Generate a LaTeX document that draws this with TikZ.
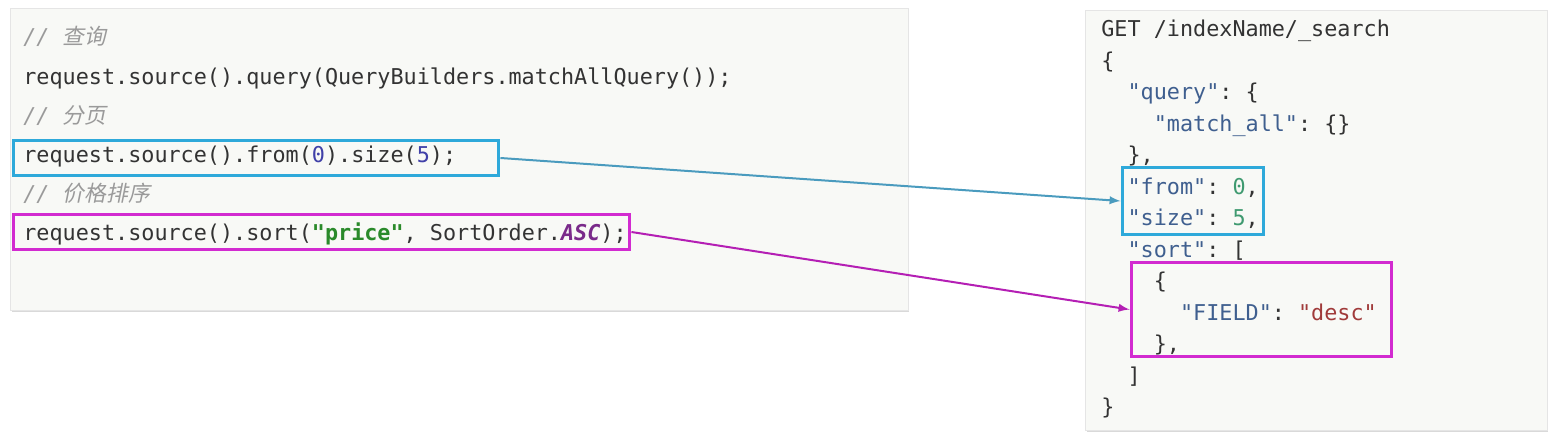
\documentclass[tikz,border=0pt]{standalone}
\usepackage{fontspec}
\setmonofont{DejaVu Sans Mono}
\newfontfamily\cjk{Noto Sans CJK SC}[FakeSlant=0.2]
\usetikzlibrary{arrows}
\usetikzlibrary{positioning}
\usetikzlibrary{shadows}

\definecolor{panelbg}{HTML}{F8F9F6}
\definecolor{codetext}{HTML}{333333}
\definecolor{commenttext}{HTML}{9A9A9A}
\definecolor{numtext}{HTML}{4040A8}
\definecolor{strtext}{HTML}{2A8A2A}
\definecolor{consttext}{HTML}{7A2A8A}
\definecolor{keytext}{HTML}{3F5F8F}
\definecolor{jsonnum}{HTML}{3F9A70}
\definecolor{jsonstr}{HTML}{A03A3A}
\definecolor{pageblue}{HTML}{2EA9DA}
\definecolor{pagelink}{HTML}{4A9BBE}
\definecolor{sortpink}{HTML}{D22BD0}
\definecolor{sortlink}{HTML}{B41FB4}

% two characters of indentation in the json listing
\newcommand{\jsindent}{\hspace*{1.204em}}
\newcommand{\jkey}[1]{{\color{keytext}"#1"}}

\tikzset {
  % grey card behind each listing
  panel/.style = {
    rectangle,
    fill = panelbg,
    draw = black!10,
    inner sep = 0,
    drop shadow = {shadow xshift = 0.03cm, shadow yshift = -0.04cm, opacity = 0.3}
  },
  % one line of code
  code/.style = {
    anchor = base west,
    inner sep = 0,
    text = codetext,
    font = \ttfamily\fontsize{12.4}{14}\selectfont
  },
  comment/.style = {
    code,
    text = commenttext,
    font = \ttfamily\itshape\fontsize{12.4}{14}\selectfont
  },
  % put a line under the given base point
  next line/.style = {
    below = of #1,
    anchor = base west
  },
  node distance = 0.784cm
}
\tikzset {
  % coloured frame round some code
  hl/.style = {
    rectangle,
    draw = #1,
    line width = 0.06cm,
    inner sep = 0
  },
  link/.style = {
    draw = #1,
    line width = 0.04cm,
    -latex
  }
}

\begin{document}
\begin{tikzpicture}[x=0.02cm, y=-0.02cm]
    \useasboundingbox (0, 0) rectangle (1551, 432);

    \node[panel, minimum width = 17.96cm, minimum height = 6.04cm] (java-panel) at (459, 159) {};
    \node[panel, minimum width = 9.24cm, minimum height = 8.4cm] (json-panel) at (1316, 220) {};

    % java side
    \node[comment] (q-comment) at (23, 45) {// {\cjk 查询}};
    \node[code, next line = q-comment.base west] (q-line)
      {request.source().query(QueryBuilders.matchAllQuery());};
    \node[comment, next line = q-line.base west] (page-comment) {// {\cjk 分页}};
    \node[code, next line = page-comment.base west] (page-line)
      {request.source().from({\color{numtext}0}).size({\color{numtext}5});};
    \node[comment, next line = page-line.base west] (sort-comment) {// {\cjk 价格排序}};
    \node[code, next line = sort-comment.base west] (sort-line)
      {request.source().sort({\bfseries\color{strtext}"price"}, SortOrder.{\bfseries\itshape\color{consttext}ASC});};

    % json side
    \begin{scope}[node distance = 0.63cm]
      \node[code] (get) at (1101, 37) {GET /indexName/\_search};
      \node[code, next line = get.base west] (open-brace) {\{};
      \node[code, next line = open-brace.base west] (query) {\jsindent\jkey{query}: \{};
      \node[code, next line = query.base west] (match-all) {\jsindent\jsindent\jkey{match\_all}: \{\}};
      \node[code, next line = match-all.base west] (query-close) {\jsindent\},};
      \node[code, next line = query-close.base west] (from) {\jsindent\jkey{from}: {\color{jsonnum}0},};
      \node[code, next line = from.base west] (size) {\jsindent\jkey{size}: {\color{jsonnum}5},};
      \node[code, next line = size.base west] (sort) {\jsindent\jkey{sort}: [};
      \node[code, next line = sort.base west] (sort-open) {\jsindent\jsindent\{};
      \node[code, next line = sort-open.base west] (field)
        {\jsindent\jsindent\jsindent\jkey{FIELD}: {\color{jsonstr}"desc"}};
      \node[code, next line = field.base west] (sort-close) {\jsindent\jsindent\},};
      \node[code, next line = sort-close.base west] (sort-end) {\jsindent]};
      \node[code, next line = sort-end.base west] (close-brace) {\}};
    \end{scope}

    % frames
    \node[hl = pageblue, minimum width = 9.72cm, minimum height = 0.72cm] (page-box) at (256, 158) {};
    \node[hl = sortpink, minimum width = 12.34cm, minimum height = 0.72cm] (sort-box) at (321.5, 232) {};
    \node[hl = pageblue, minimum width = 2.82cm, minimum height = 1.36cm] (json-page-box) at (1192.5, 201) {};
    \node[hl = sortpink, minimum width = 5.22cm, minimum height = 1.9cm] (json-sort-box) at (1261.5, 309.5) {};

    \draw [link = pagelink] (page-box.east) -- (json-page-box.west);
    \draw [link = sortlink] (sort-box.east) -- (json-sort-box.west);
\end{tikzpicture}
\end{document}
